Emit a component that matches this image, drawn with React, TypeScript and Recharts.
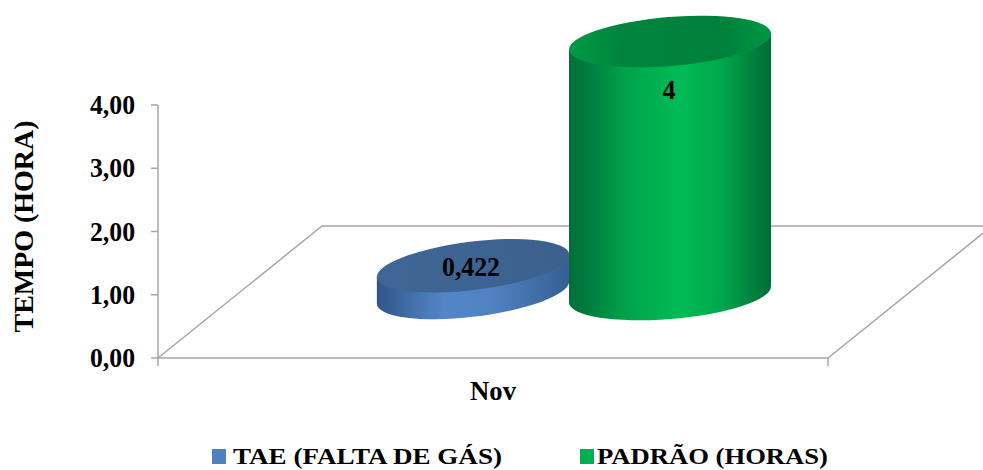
import { Bar, BarChart, LabelList, Legend, XAxis, YAxis, usePlotArea } from "recharts";

const months = ["Nov"];
const taeValues = [0.422];
const padraoValues = [4];
const yTicks = [0, 1, 2, 3, 4];
const seriesNames = ["TAE (FALTA DE GÁS)", "PADRÃO (HORAS)"];

const data = months.map((month, i) => ({
  month,
  tae: taeValues[i],
  padrao: padraoValues[i],
}));

const FONT = "'Liberation Serif', 'Times New Roman', serif";
const GREY = "#a6a6a6";
const TEXT_SIZE = 27;

const fmtAxis = (v: number) => v.toFixed(2).replace(".", ",");

// every cylinder sits on the 3D floor, so it is shifted back from the axis plane
const cylinder =
  ({ gradient, top, k, ratio, tilt, dx, depth }: any) =>
  (props: any) => {
    const { x, y, width, height } = props;
    const a = (width / 2) * k;
    const b = a * ratio;
    const t = (tilt * Math.PI) / 180;
    const hw = Math.sqrt(a * a * Math.cos(t) ** 2 + b * b * Math.sin(t) ** 2);
    const off = ((a * a - b * b) * Math.sin(t) * Math.cos(t)) / hw;
    const cx = x + width / 2 + dx;
    const topY = y - depth;
    const botY = y + height - depth;
    return (
      <g>
        <path
          d={`M${cx - hw},${topY + off} L${cx - hw},${botY + off} A${a},${b} ${-tilt} 0 0 ${cx + hw},${botY - off} L${cx + hw},${topY - off} Z`}
          fill={`url(#${gradient})`}
        />
        <ellipse cx={cx} cy={topY} rx={a} ry={b} transform={`rotate(${-tilt} ${cx} ${topY})`} fill={`url(#${top})`} />
      </g>
    );
  };

const valueLabel =
  ({ dx, dy, len }: any) =>
  (props: any) => {
    const { x, y, width, value } = props;
    return (
      <text
        x={x + width / 2 + dx}
        y={y + dy}
        textAnchor="middle"
        dominantBaseline="central"
        fontFamily={FONT}
        fontWeight="bold"
        fontSize={TEXT_SIZE}
        fill="#000"
        textLength={len}
        lengthAdjust="spacingAndGlyphs"
      >
        {String(value).replace(".", ",")}
      </text>
    );
  };

function Floor() {
  const plot = usePlotArea();
  if (!plot) return null;
  const left = plot.x;
  const right = plot.x + plot.width;
  const bottom = plot.y + plot.height;
  const backY = bottom - 132;
  const shift = 164;
  return (
    <g fill="none" stroke={GREY} strokeWidth={1.5}>
      <path d={`M${left},${bottom} L${left + shift},${backY} L${right + shift},${backY} L${right},${bottom}`} />
      <path d={`M${left},${bottom} V${bottom + 8} M${right},${bottom} V${bottom + 8}`} />
    </g>
  );
}

function YTitle() {
  const plot = usePlotArea();
  if (!plot) return null;
  const cy = plot.y + plot.height / 2 - 5;
  return (
    <text
      x={24}
      y={cy}
      transform={`rotate(-90 24 ${cy})`}
      textAnchor="middle"
      dominantBaseline="central"
      fontFamily={FONT}
      fontWeight="bold"
      fontSize={TEXT_SIZE}
      textLength={212}
      lengthAdjust="spacingAndGlyphs"
    >
      TEMPO (HORA)
    </text>
  );
}

const YTick = ({ x, y, payload }: any) => (
  <text
    x={x - 14}
    y={y}
    textAnchor="end"
    dominantBaseline="central"
    fontFamily={FONT}
    fontWeight="bold"
    fontSize={TEXT_SIZE}
    textLength={45}
    lengthAdjust="spacingAndGlyphs"
  >
    {fmtAxis(payload.value)}
  </text>
);

const XTick = ({ x, y, payload }: any) => (
  <text
    x={x}
    y={y + 25}
    textAnchor="middle"
    dominantBaseline="central"
    fontFamily={FONT}
    fontWeight="bold"
    fontSize={TEXT_SIZE}
    textLength={46}
    lengthAdjust="spacingAndGlyphs"
  >
    {payload.value}
  </text>
);

const legendSlots = [
  { box: 212, text: 233, len: 269 },
  { box: 580, text: 597, len: 231 },
];

const LegendContent = ({ payload }: any) => (
  <svg width={983} height={27} style={{ display: "block" }}>
    {(payload ?? []).map((item: any, i: number) => (
      <g key={item.value}>
        <rect x={legendSlots[i].box} y={7} width={14} height={15} fill={item.color} />
        <text
          x={legendSlots[i].text}
          y={14}
          dominantBaseline="central"
          fontFamily={FONT}
          fontWeight="bold"
          fontSize={24}
          textLength={legendSlots[i].len}
          lengthAdjust="spacingAndGlyphs"
        >
          {item.value}
        </text>
      </g>
    ))}
  </svg>
);

export default function App() {
  return (
    <div style={{ position: "absolute", left: 0, top: 0, width: 983, height: 470, background: "#fff" }}>
      <BarChart
        width={983}
        height={470}
        data={data}
        barSize={196}
        barGap={0}
        margin={{ top: 105, right: 155, bottom: 72, left: 0 }}
      >
        <defs>
          <linearGradient id="blueSide" x1="0" y1="0" x2="1" y2="0">
            <stop offset="0%" stopColor="#2f5686" />
            <stop offset="12%" stopColor="#3c689f" />
            <stop offset="35%" stopColor="#5386c9" />
            <stop offset="60%" stopColor="#5082c2" />
            <stop offset="100%" stopColor="#355f92" />
          </linearGradient>
          <linearGradient id="blueTop" x1="0" y1="0" x2="1" y2="0">
            <stop offset="0%" stopColor="#3f6696" />
            <stop offset="100%" stopColor="#3c618f" />
          </linearGradient>
          <linearGradient id="greenSide" x1="0" y1="0" x2="1" y2="0">
            <stop offset="0%" stopColor="#006f38" />
            <stop offset="8%" stopColor="#007a3e" />
            <stop offset="28%" stopColor="#00a34b" />
            <stop offset="55%" stopColor="#00bb55" />
            <stop offset="75%" stopColor="#00a84c" />
            <stop offset="100%" stopColor="#006c35" />
          </linearGradient>
          <linearGradient id="greenTop" x1="0" y1="0" x2="1" y2="0">
            <stop offset="0%" stopColor="#009a47" />
            <stop offset="25%" stopColor="#00853e" />
            <stop offset="75%" stopColor="#00803b" />
            <stop offset="100%" stopColor="#009645" />
          </linearGradient>
        </defs>
        <Floor />
        <YTitle />
        <XAxis
          dataKey="month"
          height={40}
          tickLine={false}
          axisLine={{ stroke: GREY, strokeWidth: 1.5 }}
          tick={<XTick />}
        />
        <YAxis
          width={158}
          domain={[0, 4]}
          ticks={yTicks}
          tickSize={7}
          tickLine={{ stroke: GREY, strokeWidth: 1.5 }}
          axisLine={{ stroke: GREY, strokeWidth: 1.5 }}
          tick={<YTick />}
        />
        <Legend
          layout="vertical"
          align="center"
          verticalAlign="middle"
          itemSorter={null}
          wrapperStyle={{ position: "absolute", left: 0, top: 442, width: 983, height: 27 }}
          content={<LegendContent />}
        />
        <Bar
          dataKey="tae"
          name={seriesNames[0]}
          fill="#4f81bd"
          isAnimationActive={false}
          shape={cylinder({ gradient: "blueSide", top: "blueTop", k: 0.988, ratio: 0.25, tilt: 7, dx: 78, depth: 65.5 })}
        >
          <LabelList dataKey="tae" content={valueLabel({ dx: 76, dy: -64, len: 58 })} />
        </Bar>
        <Bar
          dataKey="padrao"
          name={seriesNames[1]}
          fill="#00b050"
          isAnimationActive={false}
          shape={cylinder({ gradient: "greenSide", top: "greenTop", k: 1.034, ratio: 0.242, tilt: 4.8, dx: 79, depth: 63.5 })}
        >
          <LabelList dataKey="padrao" content={valueLabel({ dx: 78, dy: -15, len: 13 })} />
        </Bar>
      </BarChart>
    </div>
  );
}
